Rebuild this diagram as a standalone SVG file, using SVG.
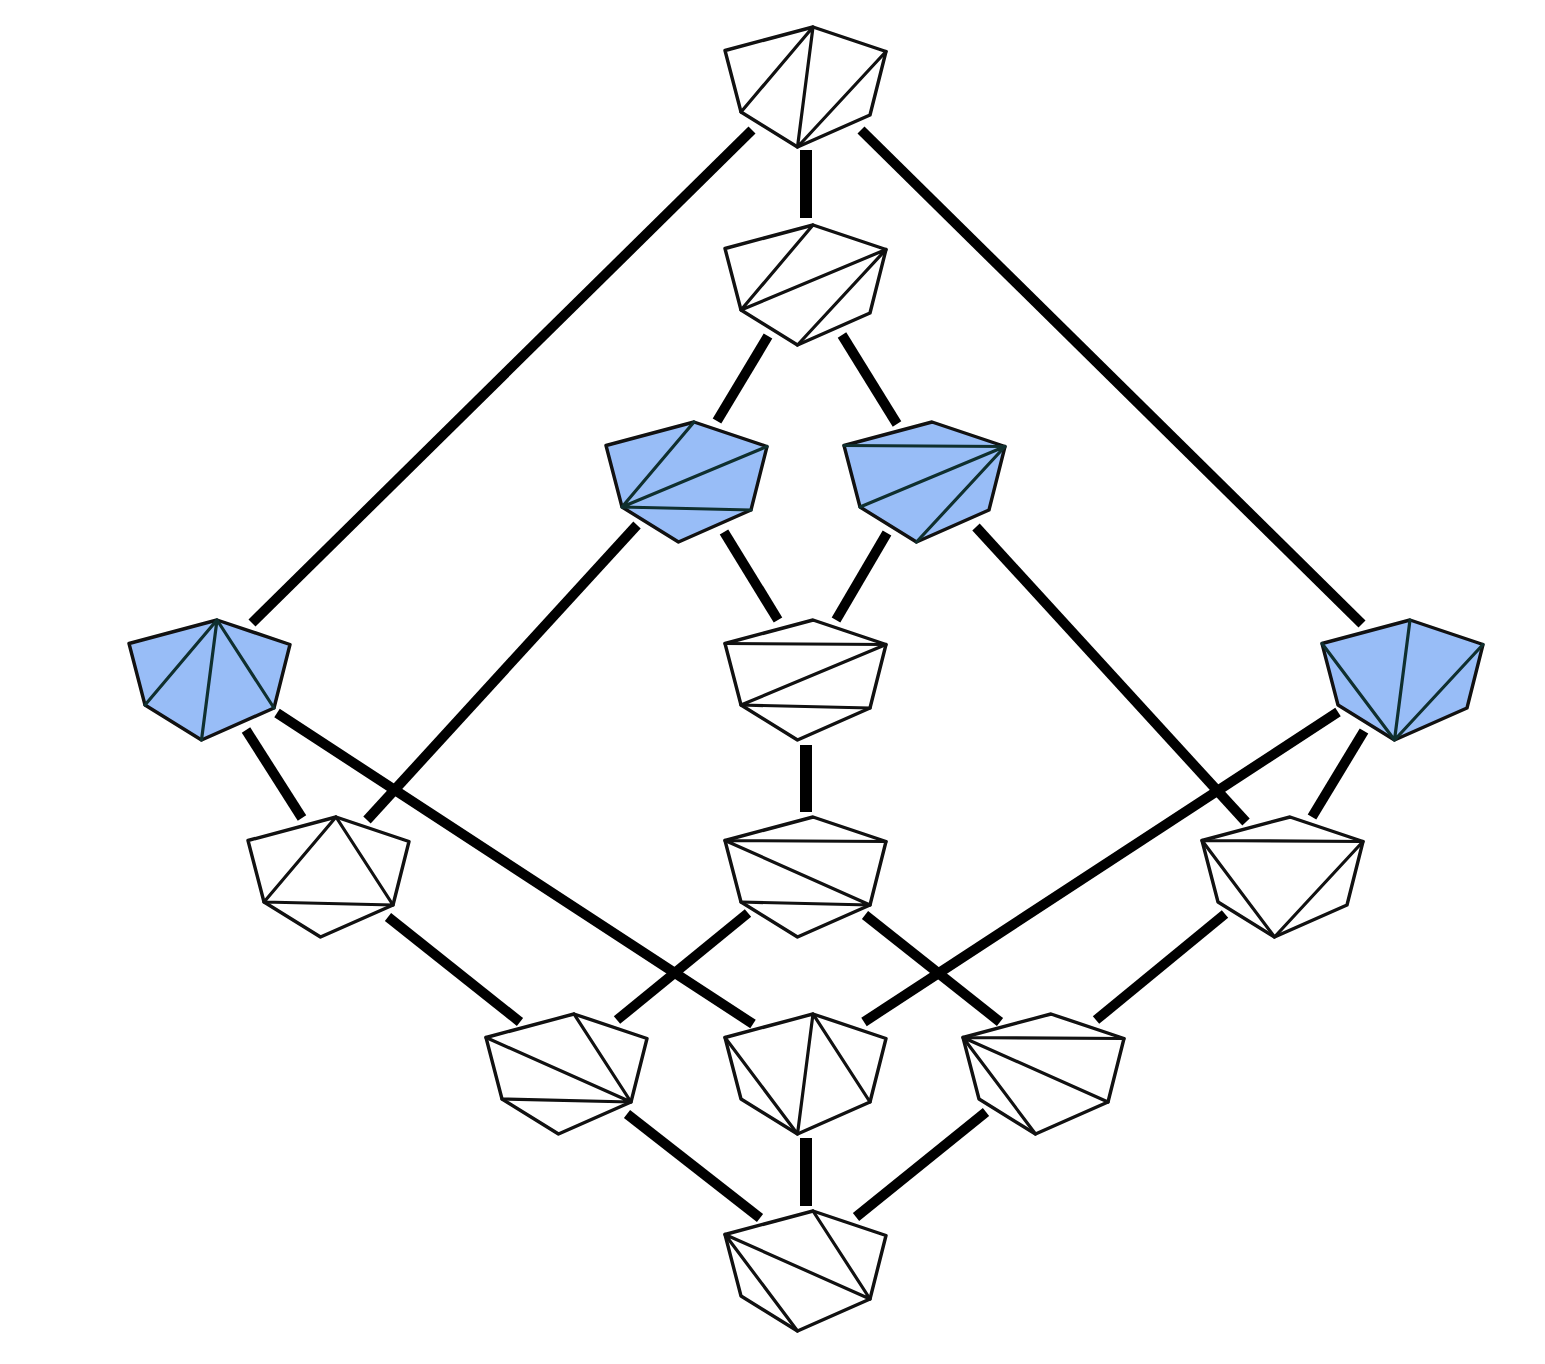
<svg xmlns="http://www.w3.org/2000/svg" width="1545" height="1364" viewBox="0 0 1545 1364">
<style>
.hex{stroke:#111;stroke-width:3.4;stroke-linejoin:round;fill:#fff}
.d{stroke:#111;stroke-width:3.2;fill:none;stroke-linecap:round}
.blue .hex{fill:#98bdf7}
.blue .d{stroke:#0f2f2e}
#connectors line{stroke:#000;stroke-width:10}
#connectors line.v{stroke-width:12}
</style>
<defs><polygon id="hex" points="-88,23.500 0,0 73,24.500 57,88 -15.500,120 -72,85"/></defs>
<rect width="1545" height="1364" fill="#fff"/>
<g id="connectors">
<line class="v" x1="806" y1="150" x2="806" y2="218"/>
<line x1="752" y1="130" x2="252" y2="623"/>
<line x1="861" y1="130" x2="1362" y2="624"/>
<line x1="768" y1="336" x2="717" y2="421"/>
<line x1="842" y1="335" x2="897" y2="424"/>
<line x1="724" y1="532" x2="778" y2="620"/>
<line x1="887" y1="533" x2="836" y2="620"/>
<line x1="637" y1="525" x2="367" y2="820"/>
<line x1="976" y1="527" x2="1246" y2="822"/>
<line x1="246" y1="730" x2="302" y2="818"/>
<line x1="277" y1="713" x2="753" y2="1024"/>
<line x1="1338" y1="712" x2="864" y2="1022"/>
<line x1="1364" y1="731" x2="1312" y2="817"/>
<line class="v" x1="806" y1="745" x2="806" y2="812"/>
<line x1="388" y1="917" x2="520" y2="1022"/>
<line x1="748" y1="913" x2="617" y2="1020"/>
<line x1="865" y1="915" x2="1000" y2="1022"/>
<line x1="1225" y1="914" x2="1096" y2="1020"/>
<line x1="627" y1="1114" x2="760" y2="1218"/>
<line class="v" x1="806" y1="1138" x2="806" y2="1206"/>
<line x1="986" y1="1112" x2="856" y2="1217"/>
</g>
<g id="n1" transform="translate(813,27)"><use href="#hex" class="hex"/><path class="d" d="M0,0L-72,85M0,0L-15.500,120M73,24.500L-15.500,120"/></g>
<g id="n2" transform="translate(813,225)"><use href="#hex" class="hex"/><path class="d" d="M0,0L-72,85M73,24.500L-72,85M73,24.500L-15.500,120"/></g>
<g id="n3" class="blue" transform="translate(694,422)"><use href="#hex" class="hex"/><path class="d" d="M0,0L-72,85M73,24.500L-72,85M57,88L-72,85"/></g>
<g id="n4" class="blue" transform="translate(932,422)"><use href="#hex" class="hex"/><path class="d" d="M-88,23.500L73,24.500M73,24.500L-72,85M73,24.500L-15.500,120"/></g>
<g id="n5" class="blue" transform="translate(217,620)"><use href="#hex" class="hex"/><path class="d" d="M0,0L-72,85M0,0L-15.500,120M0,0L57,88"/></g>
<g id="n6" transform="translate(813,620)"><use href="#hex" class="hex"/><path class="d" d="M-88,23.500L73,24.500M73,24.500L-72,85M-72,85L57,88"/></g>
<g id="n7" class="blue" transform="translate(1410,620)"><use href="#hex" class="hex"/><path class="d" d="M-88,23.500L-15.500,120M0,0L-15.500,120M73,24.500L-15.500,120"/></g>
<g id="n8" transform="translate(336,817)"><use href="#hex" class="hex"/><path class="d" d="M0,0L-72,85M0,0L57,88M-72,85L57,88"/></g>
<g id="n9" transform="translate(813,817)"><use href="#hex" class="hex"/><path class="d" d="M-88,23.500L73,24.500M-88,23.500L57,88M-72,85L57,88"/></g>
<g id="n10" transform="translate(1290,817)"><use href="#hex" class="hex"/><path class="d" d="M-88,23.500L73,24.500M-88,23.500L-15.500,120M73,24.500L-15.500,120"/></g>
<g id="n11" transform="translate(574,1014)"><use href="#hex" class="hex"/><path class="d" d="M-88,23.500L57,88M-72,85L57,88M0,0L57,88"/></g>
<g id="n12" transform="translate(813,1014)"><use href="#hex" class="hex"/><path class="d" d="M-88,23.500L-15.500,120M0,0L-15.500,120M0,0L57,88"/></g>
<g id="n13" transform="translate(1051,1014)"><use href="#hex" class="hex"/><path class="d" d="M-88,23.500L73,24.500M-88,23.500L57,88M-88,23.500L-15.500,120"/></g>
<g id="n14" transform="translate(813,1211)"><use href="#hex" class="hex"/><path class="d" d="M-88,23.500L57,88M-88,23.500L-15.500,120M0,0L57,88"/></g>
</svg>
